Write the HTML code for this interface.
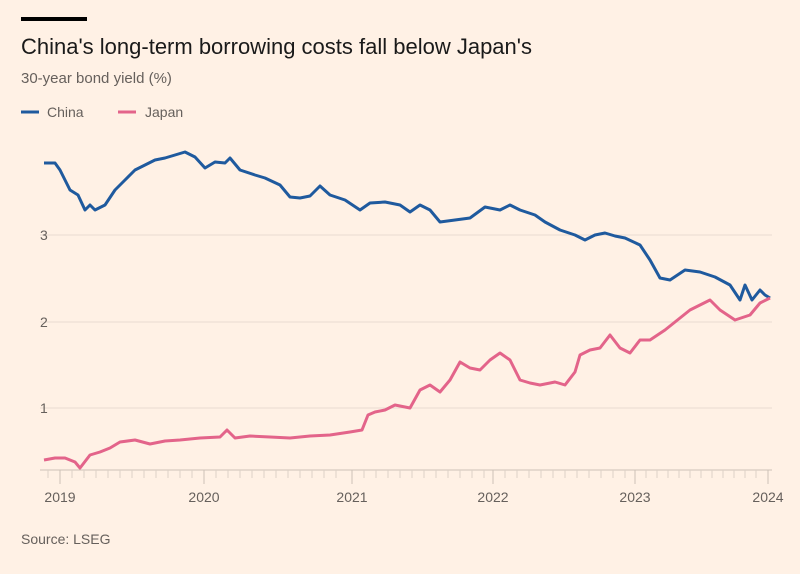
<!DOCTYPE html>
<html><head><style>
body{margin:0;background:#fff1e5;}
svg text{font-family:"Liberation Sans",sans-serif;}
</style></head><body>
<svg width="800" height="569" viewBox="0 0 800 569" xmlns="http://www.w3.org/2000/svg">
<rect width="800" height="569" fill="#fff1e5"/>
<rect x="21" y="17" width="66" height="4" fill="#000"/>
<text x="21" y="54" font-size="22" fill="#1a1a1a">China's long-term borrowing costs fall below Japan's</text>
<text x="21" y="83" font-size="15" fill="#66605c">30-year bond yield (%)</text>
<line x1="21" y1="112" x2="39" y2="112" stroke="#1f5a9e" stroke-width="3"/>
<text x="47" y="117" font-size="14" fill="#66605c">China</text>
<line x1="118" y1="112" x2="136" y2="112" stroke="#e3648a" stroke-width="3"/>
<text x="145" y="117" font-size="14" fill="#66605c">Japan</text>
<g stroke="#e9dcd1" stroke-width="1">
<line x1="40" y1="235" x2="772" y2="235"/>
<line x1="40" y1="322" x2="772" y2="322"/>
<line x1="40" y1="408" x2="772" y2="408"/>
</g>
<text x="40" y="240" font-size="14" fill="#66605c">3</text>
<text x="40" y="327" font-size="14" fill="#66605c">2</text>
<text x="40" y="413" font-size="14" fill="#66605c">1</text>
<line x1="40" y1="470" x2="772" y2="470" stroke="#ccc1b7"/>
<g stroke="#ddd1c6">
<path d="M48 470v8M72 470v8M84 470v8M96 470v8M108 470v8M120 470v8M132 470v8M144 470v8M156 470v8M168 470v8M180 470v8M192 470v8M216 470v8M228 470v8M240 470v8M252 470v8M264 470v8M276 470v8M288 470v8M300 470v8M312 470v8M324 470v8M336 470v8M364 470v8M376 470v8M388 470v8M400 470v8M412 470v8M424 470v8M436 470v8M448 470v8M460 470v8M472 470v8M484 470v8M505 470v8M517 470v8M529 470v8M541 470v8M553 470v8M565 470v8M577 470v8M589 470v8M601 470v8M613 470v8M625 470v8M646 470v8M657 470v8M668 470v8M679 470v8M690 470v8M701 470v8M712 470v8M723 470v8M734 470v8M745 470v8M756 470v8"/>
</g>
<g stroke="#ccc1b7">
<line x1="60" y1="470" x2="60" y2="484"/><line x1="204" y1="470" x2="204" y2="484"/><line x1="352" y1="470" x2="352" y2="484"/><line x1="493" y1="470" x2="493" y2="484"/><line x1="635" y1="470" x2="635" y2="484"/><line x1="768" y1="470" x2="768" y2="484"/>
</g>
<g font-size="14" fill="#66605c" text-anchor="middle">
<text x="60" y="502">2019</text><text x="204" y="502">2020</text><text x="352" y="502">2021</text><text x="493" y="502">2022</text><text x="635" y="502">2023</text><text x="768" y="502">2024</text>
</g>
<text x="21" y="544" font-size="14" fill="#66605c">Source: LSEG</text>
<polyline fill="none" stroke="#1f5a9e" stroke-width="3" stroke-linejoin="round" points="44,163 55,163 60,170 70,190 78,195 85,210 90,205 95,210 105,205 115,190 125,180 135,170 145,165 155,160 165,158 175,155 185,152 195,157 205,168 215,162 225,163 230,158 240,170 255,175 265,178 280,185 290,197 300,198 310,196 320,186 330,195 345,200 360,210 370,203 385,202 400,205 410,212 420,205 430,210 440,222 455,220 470,218 485,207 500,210 510,205 520,210 535,215 545,222 560,230 575,235 585,240 595,235 605,233 615,236 625,238 640,245 650,260 660,278 670,280 685,270 700,272 715,277 730,285 740,300 745,285 752,300 760,290 765,295 770,298"/>
<polyline fill="none" stroke="#e3648a" stroke-width="3" stroke-linejoin="round" points="44,460 55,458 65,458 75,462 80,468 90,455 100,452 110,448 120,442 135,440 150,444 165,441 180,440 200,438 220,437 227,430 235,438 250,436 270,437 290,438 310,436 330,435 350,432 362,430 368,415 375,412 385,410 395,405 410,408 420,390 430,385 440,392 450,380 460,362 470,368 480,370 490,360 500,353 510,360 520,380 530,383 540,385 555,382 565,385 575,372 580,355 590,350 600,348 610,335 620,348 630,353 640,340 650,340 665,330 675,322 690,310 700,305 710,300 720,310 735,320 750,315 760,303 770,298"/>
</svg>
</body></html>
